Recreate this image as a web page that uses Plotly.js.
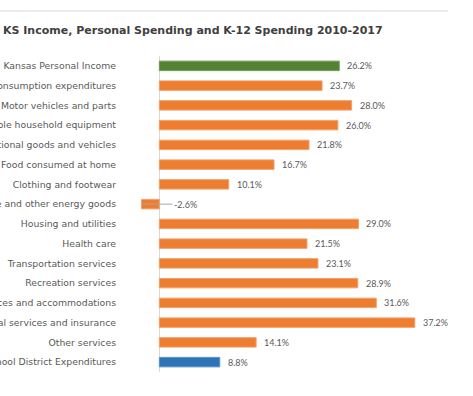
<!DOCTYPE html>
<html>
<head>
<meta charset="utf-8">
<script src="https://cdn.plot.ly/plotly-3.0.1.min.js"></script>
<style>
html,body{margin:0;padding:0;background:#fff;}
#chart{width:473px;height:396px;}
</style>
</head>
<body>
<div id="chart"></div>
<script>
var categories = [
  "Kansas Personal Income",
  "Personal consumption expenditures",
  "Motor vehicles and parts",
  "Durable household equipment",
  "Recreational goods and vehicles",
  "Food consumed at home",
  "Clothing and footwear",
  "Gasoline and other energy goods",
  "Housing and utilities",
  "Health care",
  "Transportation services",
  "Recreation services",
  "Food services and accommodations",
  "Financial services and insurance",
  "Other services",
  "Kansas School District Expenditures"
];
var values = [26.2, 23.7, 28.0, 26.0, 21.8, 16.7, 10.1, -2.6, 29.0, 21.5, 23.1, 28.9, 31.6, 37.2, 14.1, 8.8];
var groups = ["income","spending","spending","spending","spending","spending","spending","spending","spending","spending","spending","spending","spending","spending","spending","k12"];
var groupColors = {income: "#548235", spending: "#ED7D31", k12: "#2E75B6"};
var groupEdges = {income: "#6f9a4f", spending: "#f3a06a", k12: "#5591c8"};
var titleText = "KS Income, Personal Spending and K-12 Spending 2010-2017";

var colors = groups.map(function(g){ return groupColors[g]; });
var edges = groups.map(function(g){ return groupEdges[g]; });

var trace = {
  type: "bar",
  orientation: "h",
  y: categories,
  x: values,
  width: 0.48,
  marker: {color: colors, line: {color: edges, width: 1}},
  hoverinfo: "none"
};

var labelFont = {family: "Lato, sans-serif", size: 9, color: "#595959"};
var annotations = values.map(function(v, i){
  var label = v.toFixed(1) + "%";
  if (v >= 0) {
    return {
      x: v, y: categories[i], xref: "x", yref: "y",
      text: label, showarrow: false, xanchor: "left", xshift: 6,
      font: labelFont
    };
  }
  return {
    x: v, y: categories[i], xref: "x", yref: "y",
    text: label, showarrow: true, arrowhead: 0, arrowwidth: 1, arrowcolor: "#a6a6a6",
    ax: 31, ay: 0, xanchor: "left", standoff: 0,
    font: labelFont
  };
});

var layout = {
  width: 473, height: 396,
  margin: {l: 125, r: 39, t: 56, b: 24, pad: 0},
  paper_bgcolor: "#ffffff",
  plot_bgcolor: "#ffffff",
  showlegend: false,
  title: {
    text: titleText,
    x: 3/473, xref: "container", xanchor: "left",
    y: 1 - 30/396, yref: "container", yanchor: "middle",
    font: {family: "DejaVu Sans, sans-serif", size: 11, color: "#404040", weight: "bold"}
  },
  xaxis: {
    range: [-5, 40],
    showgrid: false, showticklabels: false, ticks: "",
    zeroline: true, zerolinecolor: "#d9d9d9", zerolinewidth: 1,
    showline: false, fixedrange: true
  },
  yaxis: {
    autorange: "reversed", type: "category",
    showgrid: false, zeroline: false, showline: false,
    ticks: "", ticklabelstandoff: 8,
    tickfont: {family: "DejaVu Sans, sans-serif", size: 9.3, color: "#595959"},
    fixedrange: true
  },
  annotations: annotations,
  shapes: [{
    type: "line", xref: "paper", yref: "paper",
    x0: -125/309, x1: (448-125)/309, y0: (372-11)/316, y1: (372-11)/316,
    line: {color: "#d9d9d9", width: 1}
  }]
};

Plotly.newPlot("chart", [trace], layout, {displayModeBar: false, staticPlot: true});
</script>
</body>
</html>
